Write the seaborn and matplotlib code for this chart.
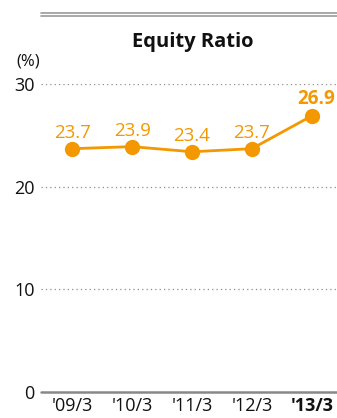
import matplotlib
matplotlib.use("Agg")
import matplotlib.pyplot as plt
from matplotlib.lines import Line2D
import seaborn as sns
import pandas as pd

periods = ["'09/3", "'10/3", "'11/3", "'12/3", "'13/3"]
equity_ratio = [23.7, 23.9, 23.4, 23.7, 26.9]
y_ticks = [0, 10, 20, 30]

ORANGE = "#F39800"
GRID = "#8c8c8c"

sns.set_theme(style="white")
plt.rcParams["font.family"] = ["Open Sans", "DejaVu Sans"]

df = pd.DataFrame({"period": periods, "ratio": equity_ratio, "pos": range(len(periods))})

fig = plt.figure(figsize=(3.37, 4.18), dpi=100)
W, H = 337, 418
ax = fig.add_axes([41 / W, (H - 392) / H, (343 - 41) / W, (392 - 84) / H])

ax.set_ylim(0, 30)
ax.set_xlim(-0.52, 4.52)

for v in y_ticks[1:]:
    ax.axhline(v, color=GRID, lw=0.9, ls=(0, (1, 2.5)), zorder=0)
ax.axhline(0, color="#888888", lw=1.8, zorder=1, clip_on=False)

sns.lineplot(data=df, x="pos", y="ratio", ax=ax, color=ORANGE, lw=2,
             marker="o", markersize=11, markeredgewidth=0, zorder=3, clip_on=False)

for i, v in enumerate(equity_ratio):
    last = i == len(equity_ratio) - 1
    ax.annotate(f"{v:.1f}", (i, v), xytext=(3 if last else 0, 5), textcoords="offset points",
                ha="center", va="bottom", color=ORANGE, fontsize=13.5,
                fontweight="bold" if last else "normal", annotation_clip=False)

for s in ax.spines.values():
    s.set_visible(False)
ax.set_xlabel("")
ax.set_ylabel("")
ax.set_yticks(y_ticks)
ax.set_yticklabels([str(t) for t in y_ticks], fontsize=13, color="#111111")
ax.set_xticks(range(len(periods)))
ax.set_xticklabels(periods, fontsize=13, color="#111111")
ax.get_xticklabels()[-1].set_fontweight("bold")
ax.tick_params(axis="y", length=0, pad=4.5)
ax.tick_params(axis="x", length=0, pad=3.5)

# header double rule and title
for y in (13, 16):
    fig.add_artist(Line2D([41 / W, 1], [(H - y) / H] * 2, color="#999999", lw=1.2))
fig.text(193 / W, (H - 42) / H, "Equity Ratio", ha="center", va="center",
         fontsize=14.5, fontweight="bold", color="#111111")
fig.text(28 / W, (H - 61) / H, "(%)", ha="center", va="center", fontsize=12, color="#111111")

fig.savefig("out.png", dpi=100)
